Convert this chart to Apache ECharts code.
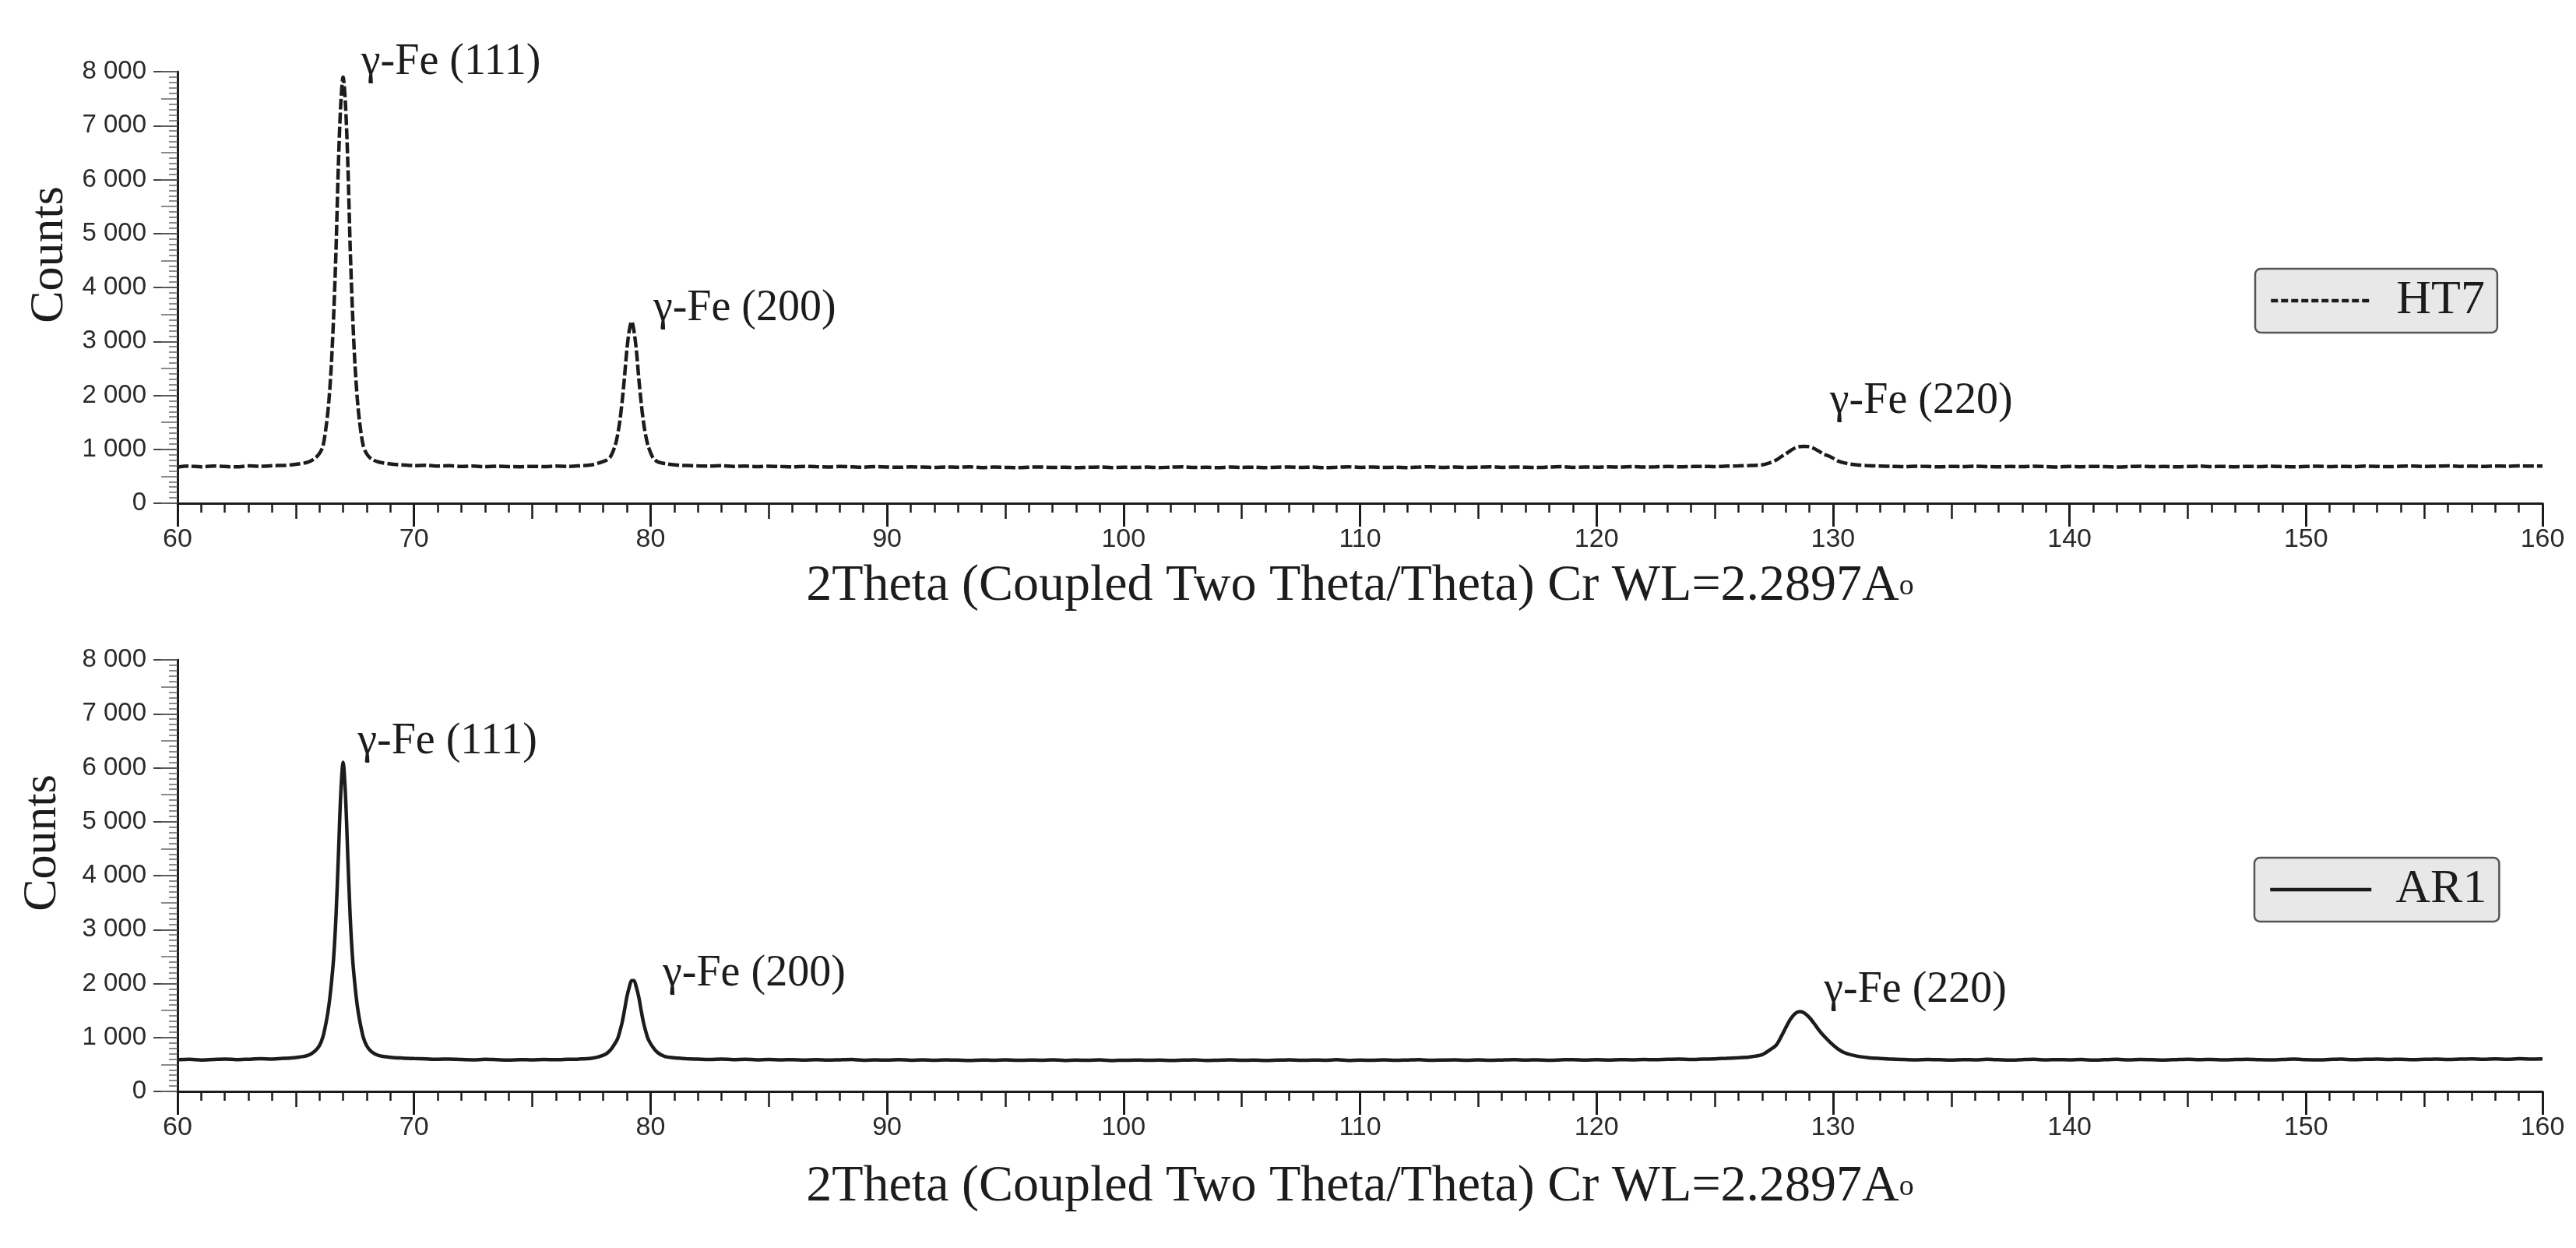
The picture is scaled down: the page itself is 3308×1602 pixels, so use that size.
<!DOCTYPE html>
<html>
<head>
<meta charset="utf-8">
<title>XRD HT7 / AR1</title>
<script src="https://cdn.jsdelivr.net/npm/echarts@6.0.0/dist/echarts.min.js"></script>
<style>
  html, body { margin: 0; padding: 0; background: #fff; }
  #main { width: 3308px; height: 1602px; }
</style>
</head>
<body>
<div id="main"></div>
<script>
// 2theta positions (deg), shared by both patterns
const theta = [
  // 60 - 65.5
  60, 60.5, 61, 61.5, 62, 62.5, 63, 63.5, 64, 64.5, 65, 65.5,
  // (111) peak
  65.8, 66.0, 66.15, 66.3, 66.4, 66.5, 66.6, 66.7, 66.8, 66.9, 67.0, 67.1,
  67.2, 67.3, 67.4, 67.5, 67.6, 67.7, 67.85, 68.0, 68.2, 68.5, 69.0,
  // 69.5 - 77.5
  69.5, 70, 70.5, 71, 71.5, 72, 72.5, 73, 73.5, 74, 74.5, 75, 75.5, 76, 76.5, 77, 77.5,
  // (200) peak
  77.8, 78.1, 78.3, 78.5, 78.6, 78.7, 78.8, 78.9, 79.0, 79.1, 79.2, 79.3,
  79.4, 79.5, 79.6, 79.7, 79.8, 79.9, 80.1, 80.3, 80.6, 81.2,
  // 81.5 - 126.5
  81.5, 82, 82.5, 83, 83.5, 84, 84.5, 85, 85.5, 86,
  86.5, 87, 87.5, 88, 88.5, 89, 89.5, 90, 90.5, 91,
  91.5, 92, 92.5, 93, 93.5, 94, 94.5, 95, 95.5, 96,
  96.5, 97, 97.5, 98, 98.5, 99, 99.5, 100, 100.5, 101,
  101.5, 102, 102.5, 103, 103.5, 104, 104.5, 105, 105.5, 106,
  106.5, 107, 107.5, 108, 108.5, 109, 109.5, 110, 110.5, 111,
  111.5, 112, 112.5, 113, 113.5, 114, 114.5, 115, 115.5, 116,
  116.5, 117, 117.5, 118, 118.5, 119, 119.5, 120, 120.5, 121,
  121.5, 122, 122.5, 123, 123.5, 124, 124.5, 125, 125.5, 126,
  126.5,
  // (220) peak
  127.0, 127.3, 127.6, 127.8, 128.0, 128.2, 128.4, 128.6, 128.8, 129.0,
  129.2, 129.4, 129.6, 129.9, 130.2, 130.5, 131.0, 131.5,
  // 132 - 160
  132, 132.5, 133, 133.5, 134, 134.5, 135, 135.5, 136, 136.5,
  137, 137.5, 138, 138.5, 139, 139.5, 140, 140.5, 141, 141.5,
  142, 142.5, 143, 143.5, 144, 144.5, 145, 145.5, 146, 146.5,
  147, 147.5, 148, 148.5, 149, 149.5, 150, 150.5, 151, 151.5,
  152, 152.5, 153, 153.5, 154, 154.5, 155, 155.5, 156, 156.5,
  157, 157.5, 158, 158.5, 159, 159.5, 160
];

// HT7 counts
const ht7Counts = [
  672, 688, 676, 690, 681, 674, 692, 684, 697, 702, 722, 760,
  830, 925, 1060, 1480, 1900, 2540, 3470, 4690, 6260, 7390, 7900, 7400,
  6300, 4740, 3520, 2590, 1940, 1500, 1070, 915, 820, 765, 728,
  712, 698, 704, 689, 695, 683, 690, 678, 686, 680, 676, 684, 679, 688, 683, 694, 712,
  745, 790, 860, 1065, 1250, 1520, 1890, 2345, 2850, 3200, 3370, 3190,
  2840, 2330, 1880, 1510, 1245, 1060, 845, 768, 735, 705,
  700, 692, 688, 695, 683, 690, 679, 686, 681, 675,
  684, 677, 672, 681, 676, 669, 678, 672, 667, 675,
  670, 664, 673, 668, 676, 662, 670, 666, 659, 668,
  673, 664, 669, 660, 667, 672, 661, 668, 664, 670,
  662, 669, 674, 663, 667, 660, 671, 665, 669, 662,
  668, 673, 664, 670, 661, 667, 675, 666, 671, 663,
  669, 662, 670, 676, 665, 671, 664, 668, 674, 666,
  672, 668, 663, 671, 677, 666, 673, 669, 675, 670,
  678, 671, 676, 682, 674, 680, 684, 679, 688, 692,
  700,
  712, 745, 800, 860, 915, 975, 1025, 1050, 1055, 1048,
  1015, 965, 910, 860, 785, 745, 712, 695,
  690, 684, 678, 686, 681, 675, 683, 679, 687, 680,
  674, 682, 677, 685, 679, 673, 681, 676, 684, 678,
  672, 680, 686, 677, 683, 675, 681, 688, 679, 684,
  676, 683, 679, 686, 680, 674, 682, 687, 678, 684,
  680, 688, 683, 677, 685, 690, 681, 687, 693, 684,
  689, 682, 691, 686, 694, 688, 690
];

// AR1 counts
const ar1Counts = [
  588, 596, 583, 592, 601, 589, 597, 605, 600, 612, 628, 665,
  745, 850, 1015, 1320, 1595, 1980, 2475, 3250, 4350, 5505, 6100, 5500,
  4345, 3240, 2470, 1975, 1590, 1315, 1010, 845, 735, 665, 632,
  618, 610, 603, 596, 600, 591, 586, 594, 588, 583, 590, 585, 592, 587, 595, 601, 615,
  640, 690, 765, 892, 970, 1110, 1280, 1510, 1755, 1930, 2055, 2055,
  1930, 1755, 1510, 1280, 1110, 970, 820, 720, 648, 616,
  605, 598, 592, 601, 589, 595, 586, 592, 584, 590,
  583, 589, 580, 586, 591, 578, 585, 581, 588, 579,
  584, 577, 586, 580, 575, 583, 578, 585, 576, 582,
  579, 586, 574, 581, 577, 584, 572, 579, 583, 576,
  582, 575, 580, 586, 573, 579, 584, 577, 581, 574,
  580, 585, 576, 582, 578, 587, 574, 581, 577, 584,
  578, 583, 589, 576, 582, 586, 579, 584, 577, 583,
  588, 581, 586, 579, 585, 590, 582, 587, 583, 589,
  585, 592, 587, 594, 598, 591, 599, 603, 612, 625,
  640,
  680, 760, 860, 1010, 1180, 1340, 1445, 1480, 1450, 1370,
  1260, 1140, 1035, 900, 790, 715, 655, 625,
  610, 598, 591, 585, 593, 588, 582, 590, 586, 594,
  587, 581, 589, 595, 584, 590, 586, 592, 581, 588,
  594, 585, 591, 587, 583, 590, 596, 588, 593, 586,
  591, 597, 589, 584, 592, 598, 590, 586, 593, 599,
  588, 594, 600, 591, 597, 589, 595, 601, 593, 598,
  604, 596, 602, 597, 605, 599, 603
];

// peak annotations (label left edge / vertical middle, in data units)
const peakNames = ['γ-Fe (111)', 'γ-Fe (200)', 'γ-Fe (220)'];
const ht7LabelX = [67.75, 80.1, 129.85];
const ht7LabelY = [8000, 3610, 1890];
const ht7LabelLift = [12, 0, 0];
const ar1LabelX = [67.6, 80.5, 129.6];
const ar1LabelY = [6475, 2175, 1870];
const ar1LabelLift = [0, 0, 0];

const xTitle = '2Theta (Coupled Two Theta/Theta) Cr WL=2.2897A{o|o}';

const serif = '"Liberation Serif", "Times New Roman", serif';
const sans = '"Liberation Sans", Arial, sans-serif';
const ink = '#1c1c1c';

const chart = echarts.init(document.getElementById('main'));

function mainX(grid, gap) {
  return {
    type: 'value', gridIndex: grid, min: 60, max: 160, interval: 10,
    position: 'bottom',
    name: xTitle, nameLocation: 'middle', nameGap: gap,
    nameTextStyle: {
      fontFamily: serif, fontSize: 66, color: ink,
      rich: { o: { fontFamily: serif, fontSize: 38, color: ink, verticalAlign: 'middle' } }
    },
    axisLine: { show: true, onZero: false, lineStyle: { color: ink, width: 3 } },
    axisTick: { show: true, length: 30, lineStyle: { color: ink, width: 3 } },
    minorTick: { show: true, splitNumber: 10, length: 12, lineStyle: { color: ink, width: 2.5 } },
    axisLabel: { fontFamily: sans, fontSize: 34, color: '#2a2a2a', margin: 30 },
    splitLine: { show: false }
  };
}

// extra axis for the 5-degree mid ticks
function midX(grid) {
  return {
    type: 'value', gridIndex: grid, min: 60, max: 160, interval: 5,
    position: 'bottom',
    axisLine: { show: false },
    axisTick: { show: true, length: 20, lineStyle: { color: ink, width: 2.5 } },
    axisLabel: { show: false },
    splitLine: { show: false }
  };
}

function countsY(grid, gap) {
  return {
    type: 'value', gridIndex: grid, min: 0, max: 8000, interval: 1000,
    position: 'left',
    name: 'Counts', nameLocation: 'middle', nameGap: gap,
    nameTextStyle: { fontFamily: serif, fontSize: 62, color: ink, padding: [0, 0, 0, 84] },
    axisLine: { show: true, onZero: false, lineStyle: { color: ink, width: 3 } },
    axisTick: { show: true, length: 31, lineStyle: { color: '#444', width: 2 } },
    minorTick: { show: true, splitNumber: 10, length: 11, lineStyle: { color: '#666', width: 1.5 } },
    axisLabel: {
      fontFamily: sans, fontSize: 33, color: '#2a2a2a', margin: 40,
      formatter: function (v) {
        return v >= 1000 ? Math.floor(v / 1000) + ' ' + String(v % 1000).padStart(3, '0') : String(v);
      }
    },
    splitLine: { show: false }
  };
}

// extra axis for the 500-count mid ticks
function midY(grid) {
  return {
    type: 'value', gridIndex: grid, min: 0, max: 8000, interval: 500,
    position: 'left',
    axisLine: { show: false },
    axisTick: { show: true, length: 21, lineStyle: { color: '#666', width: 1.5 } },
    axisLabel: { show: false },
    splitLine: { show: false }
  };
}

function peakMarks(xs, ys, lift) {
  return {
    symbol: 'circle', symbolSize: 1,
    itemStyle: { color: 'rgba(0,0,0,0)' },
    label: {
      show: true, position: 'right', distance: 0, formatter: '{b}',
      fontFamily: serif, fontSize: 56, color: ink
    },
    data: xs.map((x, i) => ({
      name: peakNames[i], coord: [x, ys[i]],
      label: { offset: [0, -lift[i]] }
    }))
  };
}

function legendBox(name, left, top, dash) {
  return {
    data: [name], left: left, top: top, orient: 'horizontal',
    icon: 'inherit',
    itemWidth: 130, itemHeight: 14,
    itemStyle: { opacity: 0 },
    lineStyle: { color: ink, width: 4.5, type: dash, opacity: 1 },
    backgroundColor: '#e8e8e8', borderColor: '#555', borderWidth: 2.5, borderRadius: 7,
    padding: [9, 16, 9, 18],
    textStyle: { fontFamily: serif, fontSize: 62, color: ink, lineHeight: 64, padding: [0, 0, 0, 26] }
  };
}

const option = {
  animation: false,
  backgroundColor: '#fff',
  grid: [
    { left: 228, right: 43, top: 92, height: 554 },
    { left: 228, right: 43, top: 847, height: 554 }
  ],
  xAxis: [mainX(0, 74), midX(0), mainX(1, 90), midX(1)],
  yAxis: [countsY(0, 128), midY(0), countsY(1, 142), midY(1)],
  legend: [
    legendBox('HT7', 2896, 345, [9, 4]),
    legendBox('AR1', 2895, 1101, 'solid')
  ],
  series: [
    {
      name: 'HT7', type: 'line', xAxisIndex: 0, yAxisIndex: 0,
      data: theta.map((t, i) => [t, ht7Counts[i]]),
      symbol: 'none', smooth: 0.3,
      lineStyle: { color: ink, width: 4.5, type: [14, 4] },
      itemStyle: { color: ink },
      markPoint: peakMarks(ht7LabelX, ht7LabelY, ht7LabelLift)
    },
    {
      name: 'AR1', type: 'line', xAxisIndex: 2, yAxisIndex: 2,
      data: theta.map((t, i) => [t, ar1Counts[i]]),
      symbol: 'none', smooth: 0.3,
      lineStyle: { color: ink, width: 4.5 },
      itemStyle: { color: ink },
      markPoint: peakMarks(ar1LabelX, ar1LabelY, ar1LabelLift)
    }
  ]
};

chart.setOption(option);
</script>
</body>
</html>
